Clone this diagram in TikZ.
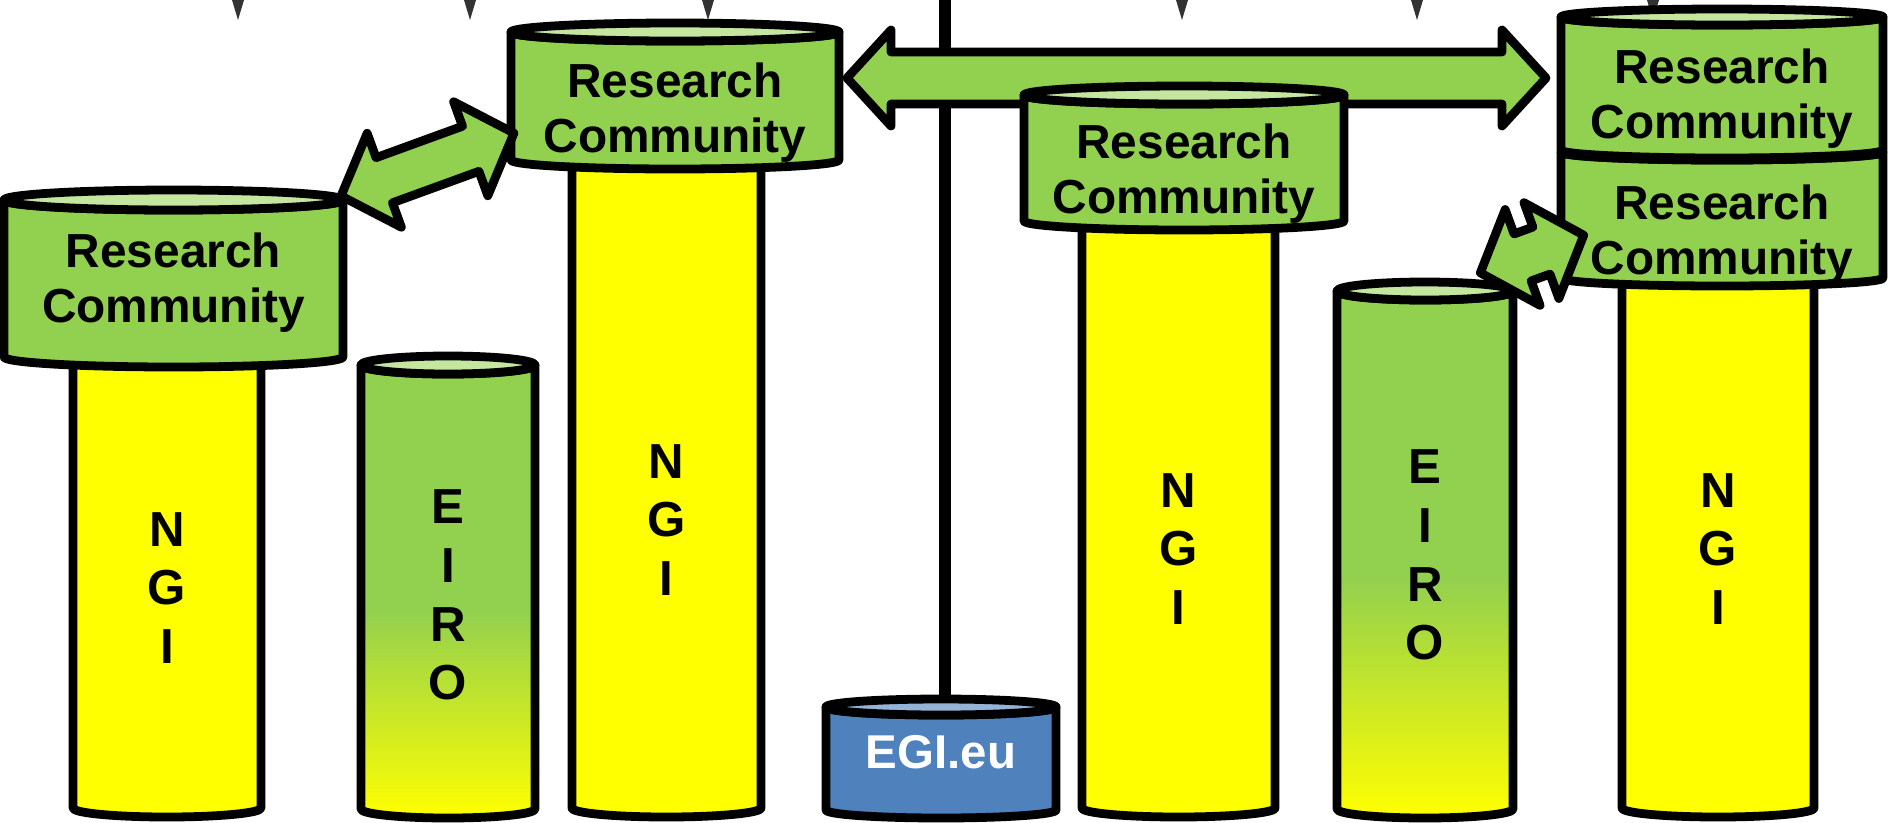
\documentclass[tikz,border=0pt]{standalone}
\usepackage{fontspec}
\setmainfont{Liberation Sans}
\definecolor{rcgreen}{RGB}{146,208,80}
\definecolor{rclight}{RGB}{196,230,158}
\definecolor{ngiyellow}{RGB}{255,255,0}
\definecolor{egiblue}{RGB}{79,129,189}
\definecolor{egilight}{RGB}{149,179,215}
\pgfdeclareverticalshading{eiroshade}{100bp}{color(0bp)=(ngiyellow); color(25bp)=(ngiyellow); color(48bp)=(rcgreen); color(100bp)=(rcgreen)}
\tikzset{
  cylline/.style={draw=black, line width=5pt, line join=round},
  arrowshape/.style={draw=black, fill=rcgreen, line width=5pt, line join=round},
  rctext/.style={font=\fontsize{27.2}{31.3}\selectfont\bfseries, align=center, inner sep=0pt},
  coltext/.style={font=\fontsize{28}{33.5}\selectfont\bfseries, align=center, inner sep=0pt},
  egitext/.style={font=\fontsize{27}{32}\selectfont\bfseries, text=white, inner sep=0pt},
  tickmark/.style={fill=black!80},
  stem/.style={draw=black, line width=7pt}
}
% L R T B ry bodyopts topfill
\newcommand\cylshape[7]{%
  \pgfmathsetmacro\cyx{(#1+#2)/2}%
  \pgfmathsetmacro\cyr{(#2-#1)/2}%
  \path[cylline,#6] (#1,#3) -- (#1,#4) arc[start angle=180,end angle=0,x radius=\cyr,y radius=#5] -- (#2,#3) arc[start angle=0,end angle=180,x radius=\cyr,y radius=#5] -- cycle;
  \path[cylline,fill=#7] (\cyx,#3) ellipse[x radius=\cyr,y radius=#5];
}
% cx cy angle L h H w
\newcommand\dblarrow[7]{%
  \begin{scope}[shift={(#1,#2)},rotate=#3]
    \pgfmathsetmacro\da{#4/2}%
    \pgfmathsetmacro\db{#4/2-#5}%
    \path[arrowshape] (-\da,0) -- (-\db,-#6) -- (-\db,-#7) -- (\db,-#7) -- (\db,-#6) -- (\da,0) -- (\db,#6) -- (\db,#7) -- (-\db,#7) -- (-\db,#6) -- cycle;
  \end{scope}%
}
\begin{document}
\begin{tikzpicture}[x=0.02cm,y=-0.02cm]
\useasboundingbox (0,0) rectangle (1892,822);
% cut-off arrow tips at the top edge
\foreach \tx in {238,470,708,1182,1417,1653}{
  \fill[tickmark] (\tx-6,0) -- (\tx+6,0) -- (\tx,20) -- cycle;
}
% NGI columns
\cylshape{73}{261}{345}{808}{9}{fill=ngiyellow}{ngiyellow}
\cylshape{572}{761}{145}{808}{9}{fill=ngiyellow}{ngiyellow}
\cylshape{1082}{1275}{205}{808}{9}{fill=ngiyellow}{ngiyellow}
\cylshape{1622}{1814}{265}{808}{9}{fill=ngiyellow}{ngiyellow}
% EIRO columns
\cylshape{361}{535}{365}{809}{9}{shade,shading=eiroshade}{rclight}
\cylshape{1337}{1513}{291}{809}{9}{shade,shading=eiroshade}{rclight}
% EGI stem and cylinder
\coordinate (stemtop) at (945,0);
\coordinate (stembot) at (945,707);
\draw[stem] (stemtop) -- (stembot);
\cylshape{826}{1056}{707}{810}{8}{fill=egiblue}{egilight}
% research communities
\cylshape{4}{343}{200}{357}{10}{fill=rcgreen}{rclight}
\cylshape{511}{839}{32}{160}{9}{fill=rcgreen}{rclight}
% horizontal double arrow
\dblarrow{1196.5}{78}{0}{699}{44}{48}{26}
\cylshape{1024}{1344}{95}{221}{9}{fill=rcgreen}{rclight}
\cylshape{1561}{1883}{152}{278}{8}{fill=rcgreen}{rcgreen}
\cylshape{1561}{1883}{17}{150}{8}{fill=rcgreen}{rclight}
% diagonal double arrows
\dblarrow{427.5}{164.5}{20}{184}{46}{50}{24}
\dblarrow{1532}{254}{20}{110}{45}{51}{25}
% texts
\node[rctext] (rc1) at (173.5,282.5) {Research\\Community};
\node[rctext] (rc2) at (675,113) {Research\\Community};
\node[rctext] (rc3) at (1184,173.5) {Research\\Community};
\node[rctext] (rc4) at (1722,99) {Research\\Community};
\node[rctext] (rc5) at (1722,234.5) {Research\\Community};
\node[coltext] (ngi1) at (167,588) {N\\G\\I};
\node[coltext] (ngi2) at (666.5,520) {N\\G\\I};
\node[coltext] (ngi3) at (1178.5,549) {N\\G\\I};
\node[coltext] (ngi4) at (1718,549) {N\\G\\I};
\node[coltext] (eiro1) at (448,595) {E\\I\\R\\O};
\node[coltext] (eiro2) at (1425,555) {E\\I\\R\\O};
\node[egitext] (egi) at (941,752) {EGI.eu};
\end{tikzpicture}
\end{document}
